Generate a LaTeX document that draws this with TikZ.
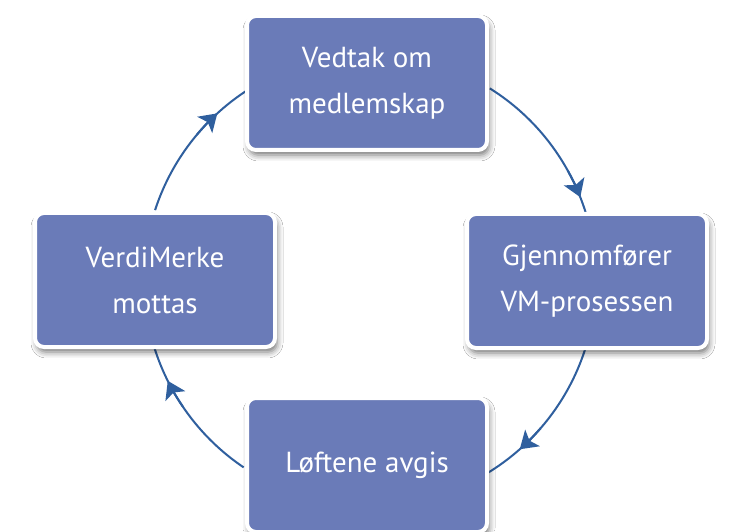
\documentclass[tikz,border=0pt]{standalone}
\usepackage{fontspec}
\newfontfamily\boxfont{PT Sans}
\usetikzlibrary{arrows.meta,shadows.blur}
\definecolor{boxblue}{HTML}{6A7BB8}
\definecolor{arcblue}{HTML}{2F5F9E}
\begin{document}
\begin{tikzpicture}[x=1pt,y=1pt,
  stepbox/.style={rectangle, rounded corners=9pt, fill=boxblue, draw=white, line width=4pt,
    minimum width=240pt, minimum height=134pt, inner sep=0pt, align=center,
    text=white, font=\boxfont\fontsize{29}{46}\selectfont,
    blur shadow={shadow xshift=2pt, shadow yshift=-5pt, shadow blur radius=6pt, shadow opacity=55}},
  conn/.style={draw=arcblue, line width=2pt},
  tip/.style={draw=arcblue, line width=2pt, -{Stealth[length=17pt,width=22pt,inset=4pt]}}]
\useasboundingbox (0,0) rectangle (734,531);
\fill[white] (0,0) rectangle (734,531);
\def\R{226}
\coordinate (c) at (370,251);
% arcs
\coordinate (a1) at ([shift={(58:\R)}]c);
\coordinate (a2) at ([shift={(-18:\R)}]c);
\coordinate (a3) at ([shift={(236:\R)}]c);
\coordinate (a4) at ([shift={(162:\R)}]c);
\draw[conn] (a1) arc[start angle=58, end angle=17, radius=\R];
\draw[conn] (a2) arc[start angle=-18, end angle=-59, radius=\R];
\draw[conn] (a3) arc[start angle=236, end angle=197, radius=\R];
\draw[conn] (a4) arc[start angle=162, end angle=123, radius=\R];
% arrow heads
\coordinate (t1) at ([shift={(29:\R)}]c);
\coordinate (t2) at ([shift={(-41:\R)}]c);
\coordinate (t3) at ([shift={(214:\R)}]c);
\coordinate (t4) at ([shift={(140:\R)}]c);
\draw[tip] (t1) arc[start angle=29, end angle=21.5, radius=\R];
\draw[tip] (t2) arc[start angle=-41, end angle=-48.5, radius=\R];
\draw[tip] (t3) arc[start angle=214, end angle=206.5, radius=\R];
\draw[tip] (t4) arc[start angle=140, end angle=132.5, radius=\R];
% boxes
\node[stepbox] (top) at (367,448) {Vedtak om\\medlemskap};
\node[stepbox] (right) at (587,250) {Gjennomfører\\VM-prosessen};
\node[stepbox] (left) at (155,251) {VerdiMerke\\mottas};
\node[stepbox] (bottom) at (367,66) {Løftene avgis};
\end{tikzpicture}
\end{document}
